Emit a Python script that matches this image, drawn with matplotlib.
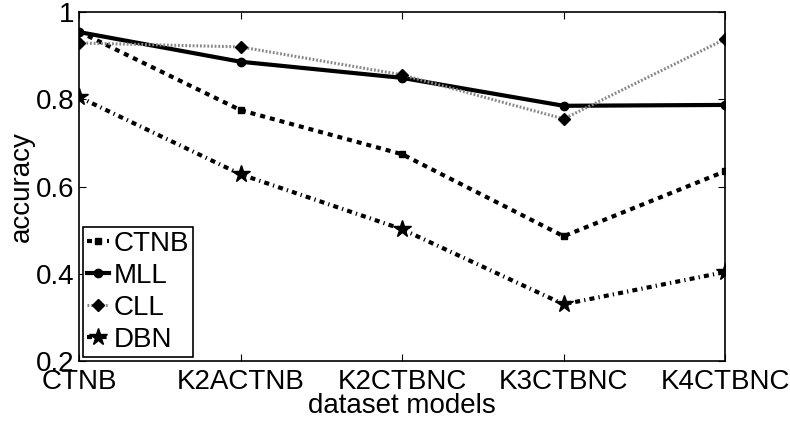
import matplotlib
matplotlib.use("Agg")
import matplotlib.pyplot as plt

categories = ["CTNB", "K2ACTNB", "K2CTBNC", "K3CTBNC", "K4CTBNC"]
ctnb = [0.955, 0.775, 0.674, 0.486, 0.635]
mll = [0.954, 0.886, 0.849, 0.785, 0.787]
cll = [0.929, 0.920, 0.856, 0.755, 0.938]
dbn = [0.805, 0.628, 0.502, 0.330, 0.404]
yticks = [0.2, 0.4, 0.6, 0.8, 1.0]
ytick_labels = ["0.2", "0.4", "0.6", "0.8", "1"]

plt.rcParams['font.family'] = ['Liberation Sans', 'DejaVu Sans']

fig = plt.figure(figsize=(7.9, 4.21), dpi=100)
ax = fig.add_axes([0.1, 0.1425, 0.818, 0.829])
x = list(range(len(categories)))

ax.plot(x, ctnb, color='black', lw=3, linestyle=(0, (1.2, 1.2)), marker='s', ms=5, label='CTNB')
ax.plot(x, mll, color='black', lw=3, linestyle='-', marker='o', ms=6, label='MLL')
ax.plot(x, cll, color='#888888', lw=2.2, linestyle=(0, (0.6, 0.6)), marker='D', ms=6,
        markerfacecolor='black', markeredgecolor='black', label='CLL')
ax.plot(x, dbn, color='black', lw=3, linestyle=(0, (1.2, 1.0, 0.3, 1.0)), marker='*', ms=13, label='DBN')

ax.set_xlim(0, len(categories) - 1)
ax.set_ylim(0.2, 1.0)
ax.set_xticks(x)
ax.set_xticklabels(categories)
ax.set_yticks(yticks)
ax.set_yticklabels(ytick_labels)
ax.tick_params(direction='in', top=True, right=True, labelsize=20, length=5, width=0.8)
ax.tick_params(axis='x', pad=5.5)
ax.tick_params(axis='y', pad=3)
for s in ax.spines.values():
    s.set_linewidth(1.2)
ax.set_xlabel('dataset models', fontsize=20, labelpad=-1)
ax.set_ylabel('accuracy', fontsize=20, labelpad=1)

leg = ax.legend(loc='lower left', bbox_to_anchor=(0.006, 0.011), borderaxespad=0,
                fancybox=False, edgecolor='black', fontsize=20, handlelength=0.8,
                handletextpad=0.15, labelspacing=0.22, borderpad=0.15, framealpha=1)
leg.get_frame().set_linewidth(1.2)

fig.savefig('out.png', dpi=100)
